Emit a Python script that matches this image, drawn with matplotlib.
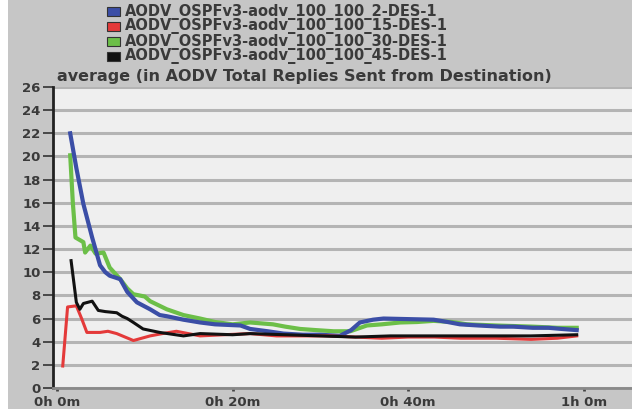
import matplotlib
matplotlib.use("Agg")
import matplotlib.pyplot as plt
from matplotlib.patches import Rectangle

# ---- data (time in minutes) ----
labels = ["AODV_OSPFv3-aodv_100_100_2-DES-1",
          "AODV_OSPFv3-aodv_100_100_15-DES-1",
          "AODV_OSPFv3-aodv_100_100_30-DES-1",
          "AODV_OSPFv3-aodv_100_100_45-DES-1"]
colors = ["#3b4ea6", "#e43a3a", "#6cbf48", "#111111"]

blue_t = [1.5, 2.2, 3.0, 4.0, 4.9, 5.5, 6.0, 7.2, 8.0, 9.1, 10.6, 11.7, 12.5, 14.4, 16.3, 18, 20.9, 22, 24, 25.8, 28, 30, 32.2, 33.5, 34.5, 36, 37.2, 40, 42.9, 44.5, 45.9, 48, 50.5, 52, 54.2, 56, 57.5, 59.2]
blue_v = [22.0, 19.0, 15.9, 13.0, 10.6, 10.0, 9.7, 9.4, 8.3, 7.4, 6.8, 6.3, 6.2, 5.9, 5.66, 5.5, 5.4, 5.1, 4.9, 4.7, 4.6, 4.6, 4.5, 5.0, 5.66, 5.9, 6.0, 5.95, 5.9, 5.7, 5.5, 5.4, 5.3, 5.3, 5.2, 5.2, 5.1, 5.0]

red_t = [0.65, 1.2, 2.2, 2.8, 3.4, 4.9, 5.8, 6.8, 8.7, 10.6, 12.0, 13.6, 16.3, 19, 22, 25, 28, 31, 34, 37, 40, 43, 46, 50, 54, 57, 59.2]
red_v = [1.9, 7.0, 7.1, 6.0, 4.8, 4.8, 4.9, 4.7, 4.1, 4.5, 4.7, 4.9, 4.5, 4.6, 4.7, 4.5, 4.5, 4.5, 4.4, 4.3, 4.4, 4.4, 4.3, 4.3, 4.2, 4.3, 4.5]

green_t = [1.5, 1.8, 2.1, 3.0, 3.2, 3.8, 4.4, 5.3, 6.0, 7.2, 8.0, 8.7, 10.0, 10.6, 12.5, 14.4, 16.3, 18, 20, 22, 24.6, 26, 27.7, 29.5, 31.5, 33.4, 35.3, 37, 39.1, 41, 42.9, 45, 46.7, 50, 54.2, 57, 59.2]
green_v = [20.1, 16.0, 13.0, 12.6, 11.7, 12.3, 11.6, 11.7, 10.4, 9.4, 8.6, 8.1, 7.9, 7.5, 6.8, 6.3, 6.0, 5.7, 5.5, 5.66, 5.5, 5.3, 5.1, 5.0, 4.9, 4.9, 5.4, 5.5, 5.66, 5.7, 5.8, 5.7, 5.5, 5.4, 5.3, 5.2, 5.2]

black_t = [1.6, 2.2, 2.6, 3.0, 4.0, 4.7, 5.5, 6.8, 7.4, 8.0, 8.7, 9.8, 11.7, 14.4, 16.3, 20, 22, 26, 30, 34, 38, 42, 46, 50, 54, 59.2]
black_v = [11.0, 7.4, 6.8, 7.3, 7.5, 6.7, 6.6, 6.5, 6.2, 6.0, 5.66, 5.1, 4.8, 4.5, 4.7, 4.6, 4.7, 4.6, 4.5, 4.4, 4.5, 4.5, 4.5, 4.5, 4.5, 4.6]

y_ticks = list(range(0, 27, 2))
x_ticks = [0, 20, 40, 60]
x_ticklabels = ["0h 0m", "0h 20m", "0h 40m", "1h 0m"]
title = "average (in AODV Total Replies Sent from Destination)"

W, H = 632, 409
TXT = "#3a3a3a"
fig = plt.figure(figsize=(W / 100, H / 100), dpi=100)
fig.patch.set_facecolor("#c6c6c6")
fig.patches.append(Rectangle((0, 0), 8 / W, 1, transform=fig.transFigure,
                             facecolor="white", edgecolor="none", zorder=0))

ax = fig.add_axes([53 / W, (H - 388) / H, (W - 53) / W, 301 / H])
ax.set_facecolor("#efefef")

series = [(blue_t, blue_v, 3.0), (red_t, red_v, 2.2),
          (green_t, green_v, 3.0), (black_t, black_v, 2.2)]
order = [2, 0, 1, 3]
for i in order:
    t, v, lw = series[i]
    ax.plot(t, v, color=colors[i], lw=lw, solid_joinstyle="round", zorder=3)

ax.set_xlim(-0.46, 65.5)
ax.set_ylim(0, 26)
ax.set_yticks(y_ticks)
ax.set_yticklabels([str(v) for v in y_ticks], fontweight="bold")
ax.set_xticks(x_ticks)
ax.set_xticklabels(x_ticklabels, fontweight="bold")
ax.yaxis.grid(True, color="#b4b4b4", lw=2.2)
ax.set_axisbelow(True)
ax.tick_params(axis="y", direction="out", length=7, width=1.2, colors="#333333",
               labelsize=9.5, pad=2, labelcolor=TXT)
ax.tick_params(axis="x", direction="out", length=2, width=2, colors="#444444",
               labelsize=9.5, pad=3.5, labelcolor=TXT)
for s in ["top", "right"]:
    ax.spines[s].set_visible(False)
ax.spines["left"].set_color("#222222")
ax.spines["left"].set_linewidth(2)
ax.spines["bottom"].set_color("#8a8a8a")
ax.spines["bottom"].set_linewidth(2)

fig.text(57 / W, 1 - 76.5 / H, title, fontsize=11.5, fontweight="bold",
         color=TXT, va="center", ha="left")

for k, lab in enumerate(labels):
    yc = 11.5 + k * 15.0
    fig.patches.append(Rectangle((107 / W, 1 - (yc + 4.5) / H), 13 / W, 9 / H,
                                 transform=fig.transFigure, facecolor=colors[k],
                                 edgecolor="#333333", lw=0.8))
    fig.text(125 / W, 1 - yc / H, lab, fontsize=10.5, fontweight="bold",
             color=TXT, va="center", ha="left")

fig.savefig("out.png", dpi=100, facecolor=fig.get_facecolor())
